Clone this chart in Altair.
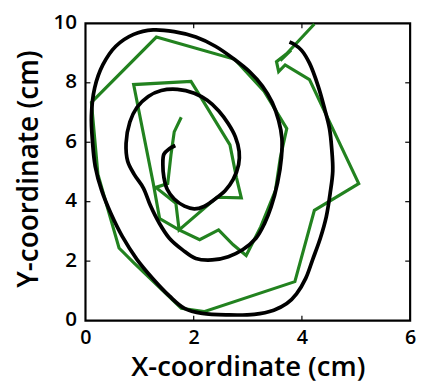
import altair as alt
import pandas as pd

# Reconstructed trajectory (black) and estimated trajectory (green), in cm
black_x = [1.66, 1.55, 1.45, 1.43, 1.45, 1.51, 1.64, 1.83, 2.01, 2.19, 2.37, 2.58, 2.73, 2.83,
           2.84, 2.77, 2.64, 2.46, 2.25, 2.01, 1.70, 1.40, 1.16, 0.95, 0.82, 0.75, 0.78, 0.90,
           1.07, 1.20, 1.36, 1.55, 1.80, 2.04, 2.34, 2.64, 2.91, 3.15, 3.31, 3.43, 3.55, 3.62,
           3.63, 3.57, 3.45, 3.27, 3.03, 2.73, 2.40, 2.04, 1.64, 1.25, 0.89, 0.56, 0.32, 0.17,
           0.11, 0.13, 0.18, 0.30, 0.47, 0.68, 0.95, 1.25, 1.55, 1.83, 2.16, 2.64, 3.12, 3.48,
           3.72, 3.90, 4.07, 4.20, 4.34, 4.45, 4.52, 4.57, 4.55, 4.51, 4.42, 4.30, 4.14, 3.99,
           3.87, 3.77]
black_y = [5.89, 5.78, 5.60, 5.25, 4.81, 4.42, 4.09, 3.85, 3.76, 3.84, 4.06, 4.37, 4.75, 5.25,
           5.69, 6.18, 6.62, 7.06, 7.41, 7.65, 7.78, 7.74, 7.54, 7.17, 6.68, 5.96, 5.36, 4.92,
           4.46, 3.87, 3.29, 2.77, 2.37, 2.09, 2.04, 2.15, 2.39, 2.77, 3.27, 3.82, 4.64, 5.47,
           6.13, 6.73, 7.34, 7.89, 8.38, 8.82, 9.23, 9.54, 9.72, 9.78, 9.63, 9.23, 8.60, 7.83,
           6.90, 6.02, 5.19, 4.37, 3.60, 2.83, 2.06, 1.40, 0.83, 0.41, 0.24, 0.19, 0.21, 0.35,
           0.57, 0.90, 1.42, 2.06, 2.77, 3.49, 4.26, 5.03, 5.80, 6.46, 7.12, 7.89, 8.66, 9.10,
           9.28, 9.37]

green_x = [1.77, 1.64, 1.58, 1.52, 1.30, 1.67, 1.73, 2.43, 2.88, 2.79, 2.67, 2.19, 1.95, 0.89,
           1.25, 1.37, 1.73, 2.11, 2.46, 2.73, 2.97, 3.24, 3.51, 3.60, 3.72, 3.30, 2.76, 1.31,
           0.11, 0.23, 0.62, 0.89, 1.77, 2.19, 3.87, 4.23, 5.05, 4.14, 3.69, 3.57, 3.53, 3.80,
           3.60, 4.23]
green_y = [6.84, 6.35, 5.58, 4.61, 4.48, 3.95, 3.05, 4.15, 4.13, 4.81, 5.91, 7.34, 8.05, 7.94,
           4.64, 3.43, 3.05, 2.72, 3.05, 2.55, 2.19, 3.16, 4.37, 5.47, 6.46, 7.72, 8.79, 9.54,
           7.34, 4.92, 2.44, 1.95, 0.41, 0.30, 1.31, 3.71, 4.61, 8.11, 8.60, 8.38, 8.71, 9.10,
           8.75, 9.98]

x_ticks = [0, 2, 4, 6]
y_ticks = [0, 2, 4, 6, 8, 10]
inner_x_ticks = [2, 4]
inner_y_ticks = [2, 4, 6, 8]

W, H = 331, 303
FONT = "Open Sans"

black = pd.DataFrame({"x": black_x, "y": black_y, "i": list(range(len(black_x)))})
green = pd.DataFrame({"x": green_x, "y": green_y, "i": list(range(len(green_x)))})

xs = alt.Scale(domain=[0, 6], nice=False, zero=False)
ys = alt.Scale(domain=[0, 10], nice=False, zero=False)

x_axis = alt.Axis(values=x_ticks, format="d", title="X-coordinate (cm)", grid=False,
                  domain=False, tickSize=0, labelPadding=7, labelFlush=False,
                  labelFont=FONT, labelFontSize=20, labelFontWeight=600, labelColor="black",
                  titleFont=FONT, titleFontSize=28, titleFontWeight=600, titleColor="black",
                  titleY=56, titleBaseline="alphabetic")
y_axis = alt.Axis(values=y_ticks, format="d", title="Y-coordinate (cm)", grid=False,
                  domain=False, tickSize=0, labelPadding=9, labelOffset=-1,
                  labelFont=FONT, labelFontSize=21, labelFontWeight=600, labelColor="black",
                  titleFont=FONT, titleFontSize=28.5, titleFontWeight=600, titleColor="black",
                  titleAngle=270, titleX=-58, titleY=148, titleBaseline="middle",
                  titleAlign="center")

green_line = alt.Chart(green).mark_line(color="#22821f", strokeWidth=3.2,
                                        strokeJoin="miter").encode(
    x=alt.X("x:Q", scale=xs, axis=x_axis),
    y=alt.Y("y:Q", scale=ys, axis=y_axis),
    order="i:Q",
)
black_line = alt.Chart(black).mark_line(color="black", strokeWidth=3.8,
                                        interpolate="catmull-rom").encode(
    x=alt.X("x:Q", scale=xs),
    y=alt.Y("y:Q", scale=ys),
    order="i:Q",
)

ty = pd.DataFrame({"v": inner_y_ticks})
tx = pd.DataFrame({"v": inner_x_ticks})
left_t = alt.Chart(ty).mark_rule(color="black", strokeWidth=1.2).encode(
    y=alt.Y("v:Q", scale=ys), x=alt.value(0), x2=alt.value(5))
right_t = alt.Chart(ty).mark_rule(color="black", strokeWidth=1.2).encode(
    y=alt.Y("v:Q", scale=ys), x=alt.value(W - 5), x2=alt.value(W))
bottom_t = alt.Chart(tx).mark_rule(color="black", strokeWidth=1.2).encode(
    x=alt.X("v:Q", scale=xs), y=alt.value(H - 5), y2=alt.value(H))
top_t = alt.Chart(tx).mark_rule(color="black", strokeWidth=1.2).encode(
    x=alt.X("v:Q", scale=xs), y=alt.value(0), y2=alt.value(5))

chart = alt.layer(green_line, black_line, left_t, right_t, bottom_t, top_t).properties(
    width=W, height=H,
    autosize=alt.AutoSizeParams(type="none"),
    padding={"left": 79, "top": 12, "right": 7, "bottom": 60},
).configure_view(stroke="black", strokeWidth=2.2)

chart.save("out.html", embed_options={"renderer": "svg", "actions": False})
